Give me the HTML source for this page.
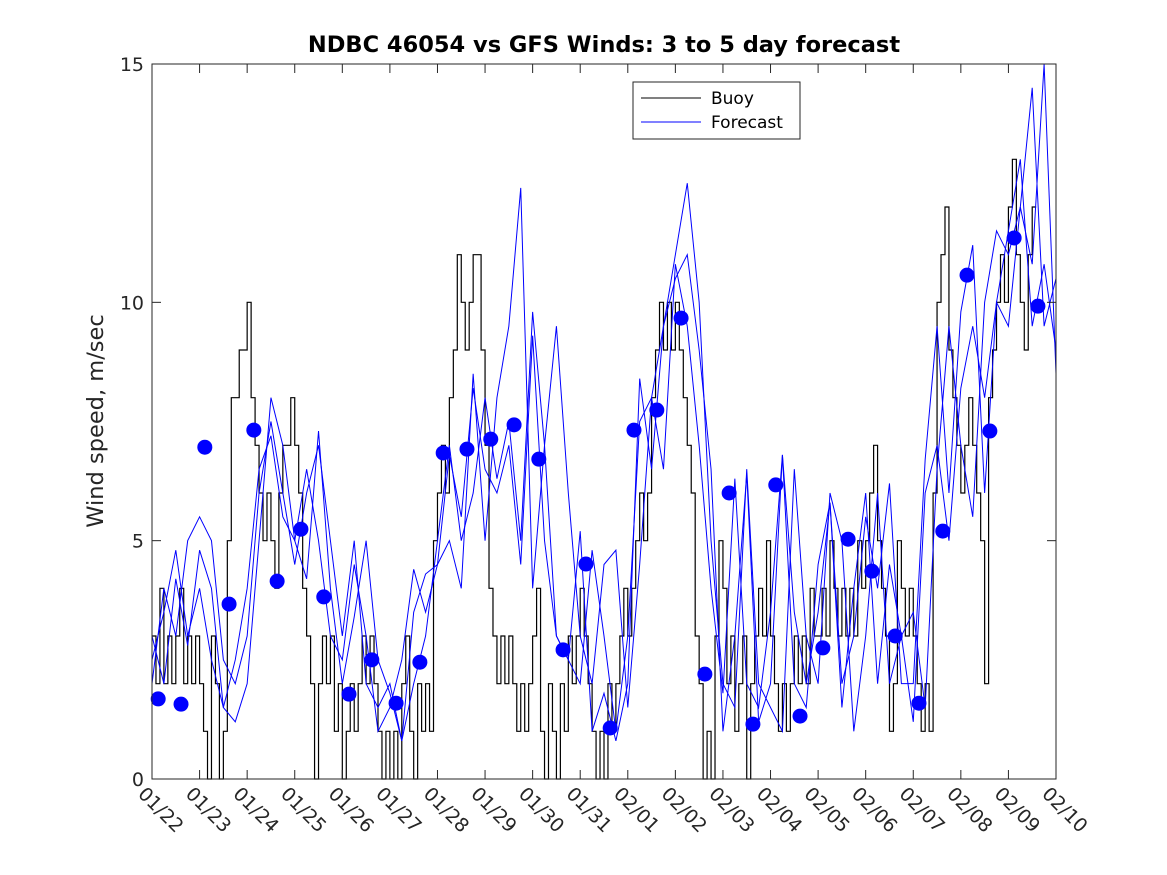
<!DOCTYPE html>
<html><head><meta charset="utf-8">
<style>
body{margin:0;background:#fff;}
svg{display:block;font-family:"DejaVu Sans","Liberation Sans",sans-serif;}
</style></head>
<body>
<svg id="chart" width="1167" height="875">
  <rect x="0" y="0" width="1167" height="875" fill="#fff"/>
  <text x="604" y="52" text-anchor="middle" font-size="22.5" font-weight="bold" fill="#000">NDBC 46054 vs GFS Winds: 3 to 5 day forecast</text>
  <text transform="translate(103,421) rotate(-90)" text-anchor="middle" font-size="22.5" fill="#262626">Wind speed, m/sec</text>
  <g id="plot"></g>
  <g id="axes"></g>
  <g>
    <rect x="633" y="82" width="167" height="57" fill="#fff" stroke="#262626" stroke-width="1"/>
    <line x1="641" y1="98" x2="701" y2="98" stroke="#000" stroke-width="1"/>
    <text x="711" y="104" font-size="17" fill="#000">Buoy</text>
    <line x1="641" y1="122" x2="701" y2="122" stroke="#00f" stroke-width="1"/>
    <text x="711" y="128" font-size="17" fill="#000">Forecast</text>
  </g>
</svg>
<script>
const xTickLabels = ["01/22","01/23","01/24","01/25","01/26","01/27","01/28","01/29","01/30","01/31","02/01","02/02","02/03","02/04","02/05","02/06","02/07","02/08","02/09","02/10"];
const yTicks = [0,5,10,15];
// buoy values every 2 hours (12 per day)
const buoy = [
 3,2,4,2,3,2,3,4,2,3,2,3,
 2,1,0,3,2,0,1,5,8,8,9,9,
 10,8,7,6,5,6,5,4,6,7,7,8,
 7,6,4,3,2,0,2,3,2,3,1,2,
 0,1,2,1,2,3,2,3,2,1,0,1,
 0,1,0,2,3,1,0,2,1,2,1,5,
 6,7,6,8,9,11,10,9,10,11,11,9,
 7,4,3,2,3,2,3,2,1,2,1,2,
 3,4,1,0,2,1,0,2,1,3,2,3,
 4,3,2,1,0,1,0,2,1,2,3,4,
 3,4,5,6,5,6,8,9,10,9,10,9,
 10,9,8,7,6,3,2,0,1,0,3,5,
 4,2,3,1,2,3,0,2,3,4,3,5,
 3,2,1,2,1,2,3,2,3,2,4,3,
 3,4,3,5,4,3,4,3,4,3,5,4,
 5,6,7,5,4,3,1,2,5,4,3,4,
 3,2,1,2,1,6,10,11,12,9,8,7,
 6,7,8,7,6,5,2,8,9,10,11,10,
 12,13,11,10,9,11,12];
// forecasts every 6 hours (4 per day)
const forecastA = [2,4,3,5, 5.5,5,2.5,2, 3,6,7.5,6, 4.5,6,7,5, 3,5,2,1.5, 2,0.8,3.5,4.3,
 4.5,5,4,8.5, 5,8,9.5,12.4, 4,7,9.5,6, 3,2,4.5,4.8, 1.5,4.5,8,9.5, 11,12.5,10,5,
 2,1.5,6.5,2, 1.5,1,6.5,3, 2,6,5,1, 3,6,2,3, 3.5,1.5,6.5,9.5, 7,5.5,10,11.5, 11,12,14.5,9.5, 10.5];
const forecastB = [3,2,4.2,2.8, 4.8,4,1.5,1.2, 2,5,8,7, 5,4.2,7.3,4, 2,3.4,5,2.5, 1.8,0.8,2,3,
 5,7,5,6, 8,6.3,7.5,5, 9.8,7,3,2.5, 5.2,1,1.8,0.8, 2,8.4,6.5,9.5, 10.5,11,9,6.5,
 1,3,6.4,1.2, 2,6.8,3.5,2, 3.5,5.8,1.5,4, 6,2,4.5,3, 1.2,6,7,5, 8.2,9.5,8,10, 9.5,12,10.8,15, 8.5];
const forecastC = [2.5,3.5,4.8,3, 4,2.5,1.5,2.5, 4,6.5,7.2,5.5, 5,6.5,5,3, 2.5,4.5,3,1, 1.5,2.5,4.4,3.5,
 4.5,6.8,5.5,8.2, 6.5,6,7,4.5, 9.3,5,3,2.5, 2,4.8,3,1, 3,7.5,8,6.5, 10.8,9.5,7,4,
 1.8,6.3,2,1.5, 3.5,6.8,2,1.5, 4.5,5.8,2,3, 5.5,4,6.2,2, 2,6.7,9.5,6, 9.8,11.2,6,10, 11.5,13,9.5,10.8, 9];
const dotDays = [0.13,0.61,1.11,1.62,2.14,2.63,3.13,3.61,4.14,4.62,5.13,5.63,6.12,6.62,7.12,7.61,8.13,8.64,9.12,9.63,10.13,10.61,11.12,11.62,12.13,12.63,13.11,13.62,14.1,14.63,15.13,15.62,16.12,16.62,17.13,17.61,18.12,18.62];
const dotVals = [1.68,1.57,6.96,3.67,7.32,4.15,5.24,3.82,1.78,2.5,1.59,2.45,6.84,6.92,7.13,7.43,6.71,2.71,4.51,1.07,7.32,7.74,9.67,2.2,6.0,1.15,6.17,1.32,2.75,5.03,4.36,3.0,1.59,5.2,10.57,7.3,11.35,9.92];

const X0=152,X1=1056,Y0=779,Y1=64;
const xs=d=>X0+(X1-X0)*d/19;
const ys=v=>Y0-(Y0-Y1)*v/15;
const NS="http://www.w3.org/2000/svg";
const plot=document.getElementById('plot'), axes=document.getElementById('axes');
function mk(tag,attrs,parent){const e=document.createElementNS(NS,tag);for(const k in attrs)e.setAttribute(k,attrs[k]);parent.appendChild(e);return e;}

let d="";
buoy.forEach((v,i)=>{const x=xs(i/12),y=ys(v);if(i===0)d+=`M${x},${y}`;else d+=`H${x}V${y}`;});
d+=`H${xs(buoy.length/12)}`;
const bl=mk('path',{d:d,fill:'none',stroke:'#000','stroke-width':1.2},plot);



[forecastA,forecastB,forecastC].forEach((arr,k)=>{
  const p=mk('polyline',{points:arr.map((v,i)=>xs(i/4)+','+ys(v)).join(' '),fill:'none',stroke:'#00f','stroke-width':1},plot);
  
  
});
dotDays.forEach((t,i)=>{
  const c=mk('circle',{cx:xs(t),cy:ys(dotVals[i]),r:7.5,fill:'#00f'},plot);
  
  
});

const box=mk('rect',{x:X0,y:Y1,width:X1-X0,height:Y0-Y1,fill:'none',stroke:'#262626','stroke-width':1},axes);


xTickLabels.forEach((lab,i)=>{
  const x=xs(i);
  mk('line',{x1:x,y1:Y0,x2:x,y2:Y0-9,stroke:'#262626'},axes);
  mk('line',{x1:x,y1:Y1,x2:x,y2:Y1+9,stroke:'#262626'},axes);
  const t=mk('text',{transform:`translate(${x-15},${Y0+16}) rotate(45)`,'font-size':19,fill:'#262626'},axes);
  t.textContent=lab;
  
  
});
yTicks.forEach(v=>{
  const y=ys(v);
  mk('line',{x1:X0,y1:y,x2:X0+9,y2:y,stroke:'#262626'},axes);
  mk('line',{x1:X1,y1:y,x2:X1-9,y2:y,stroke:'#262626'},axes);
  const t=mk('text',{x:X0-8,y:y+7,'text-anchor':'end','font-size':19,fill:'#262626'},axes);
  t.textContent=v;
  
  
});
</script>
</body></html>
